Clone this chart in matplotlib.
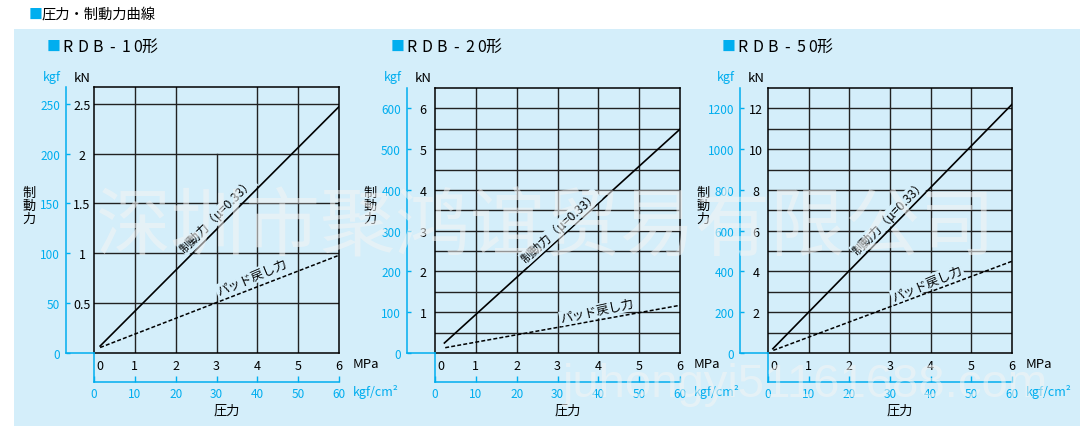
import numpy as np
import matplotlib
matplotlib.use('Agg')
import matplotlib.pyplot as plt
from matplotlib.patches import Rectangle
from matplotlib.transforms import ScaledTranslation

plt.rcParams['font.family'] = ['Noto Sans CJK JP', 'DejaVu Sans']

W, H = 1091, 435
CYAN = '#00aeef'
BG = '#d4eefa'
GRID = '#222222'

# --- data ---
titles = ['RDB-10形', 'RDB-20形', 'RDB-50形']
mpa_ticks = [0, 1, 2, 3, 4, 5, 6]
kgfcm2_labels = ['0', '10', '20', '30', '40', '50', '60']
kn_top = [2.667, 6.5, 13.0]
kn_grid = [[0.5, 1, 1.5, 2, 2.5],
           [0.5, 1, 1.5, 2, 2.5, 3, 3.5, 4, 4.5, 5, 5.5, 6],
           [1, 2, 3, 4, 5, 6, 7, 8, 9, 10, 11, 12]]
kn_ticks = [[0, 0.5, 1, 1.5, 2, 2.5],
            [0, 1, 2, 3, 4, 5, 6],
            [0, 2, 4, 6, 8, 10, 12]]
kn_labels = [['', '0.5', '1', '1.5', '2', '2.5'],
             ['', '1', '2', '3', '4', '5', '6'],
             ['', '2', '4', '6', '8', '10', '12']]
kgf_labels = [['0', '50', '100', '150', '200', '250'],
              ['0', '100', '200', '300', '400', '500', '600'],
              ['0', '200', '400', '600', '800', '1000', '1200']]

# braking force (mu=0.33) and pad return force, MPa -> kN
brake_p = [[0.15, 6], [0.23, 6], [0.12, 6]]
brake_f = [[0.07, 2.47], [0.245, 5.49], [0.21, 12.2]]
return_p = [[0.15, 6], [0.25, 6], [0.13, 6]]
return_f = [[0.055, 0.98], [0.13, 1.17], [0.13, 4.5]]

brake_lbl = [(3.02, 1.38), (3.06, 3.09), (2.98, 6.67)]
return_lbl = [(3.86, 0.76), (3.97, 1.03), (3.91, 3.43)]

# plot frames in pixels: left, top, right, bottom
frames = [(94, 88, 339, 354), (435, 89, 680, 354), (768, 89, 1012, 354)]
title_x = [47, 391, 722]
# spread-out lettering of the sub titles (px from the square)
letter_dx = [20, 36, 51, 65, 79, 91, 102]

fig = plt.figure(figsize=(W / 100, H / 100), dpi=100)
fig.add_artist(Rectangle((14 / W, 1 - 427 / H), (1080 - 14) / W, (427 - 30) / H,
                         transform=fig.transFigure, facecolor=BG,
                         edgecolor='none', zorder=-10))


def box(l, t, r, b):
    return [l / W, 1 - b / H, (r - l) / W, (b - t) / H]


def ftext(x, y, s, **kw):
    kw.setdefault('va', 'center')
    return fig.text(x / W, 1 - y / H, s, **kw)


def line_angle(ax, xs, ys):
    p = ax.transData.transform(np.column_stack([xs, ys]))
    return np.degrees(np.arctan2(p[1, 1] - p[0, 1], p[1, 0] - p[0, 0]))


ftext(29, 15, '■', color=CYAN, fontsize=10, ha='left')
ftext(42, 15, '圧力・制動力曲線', fontsize=10.3, ha='left')

for i in range(3):
    l, t, r, b = frames[i]
    ax = fig.add_axes(box(l, t, r, b))
    ax.set_facecolor('none')
    ax.set_xlim(0, 6)
    ax.set_ylim(0, kn_top[i])
    for v in kn_grid[i]:
        ax.axhline(v, color=GRID, lw=1.0, zorder=1)
    for v in mpa_ticks[1:-1]:
        top = 1.0
        if i == 0 and v == 3:
            top = 2.0 / kn_top[0]   # this line stops at 2 kN in the original
        ax.axvline(v, ymax=top, color=GRID, lw=1.0, zorder=1)
    for s in ax.spines.values():
        s.set_color('black')
        s.set_linewidth(1.1)
    ax.set_xticks(mpa_ticks)
    ax.set_yticks(kn_ticks[i], kn_labels[i])
    ax.tick_params(axis='x', length=0, labelsize=9, pad=4.5)
    ax.tick_params(axis='y', length=0, labelsize=9, pad=8.6)
    for lab in ax.get_yticklabels():
        lab.set_horizontalalignment('center')
    # the "0" under the corner sits a bit to the right
    lab0 = ax.get_xticklabels()[0]
    lab0.set_transform(lab0.get_transform() + ScaledTranslation(0.06, 0, fig.dpi_scale_trans))

    ax.plot(brake_p[i], brake_f[i], color='black', lw=1.2, zorder=3)
    ax.plot(return_p[i], return_f[i], color='black', lw=1.1,
            ls=(0, (2.6, 1.4)), zorder=3)

    a1 = line_angle(ax, brake_p[i], brake_f[i])
    ax.text(*brake_lbl[i], '制動力（μ=0.33）', rotation=a1, rotation_mode='anchor',
            ha='center', va='center', fontsize=8.8, zorder=4,
            bbox=dict(facecolor=BG, edgecolor='none', pad=0.6))
    a2 = line_angle(ax, return_p[i], return_f[i]) + 2
    ax.text(*return_lbl[i], 'パッド戻し力', rotation=a2, rotation_mode='anchor',
            ha='center', va='center', fontsize=9, zorder=4,
            bbox=dict(facecolor=BG, edgecolor='none', pad=0.6))

    # kgf scale on the left
    kx = fig.add_axes(box(l - 28, t, l, b))
    kx.set_facecolor('none')
    kx.set_xlim(0, 1)
    kx.set_ylim(0, kn_top[i])
    kx.spines[['top', 'right']].set_visible(False)
    kx.spines[['left', 'bottom']].set_color(CYAN)
    kx.spines[['left', 'bottom']].set_linewidth(1.1)
    kx.set_xticks([])
    kx.set_yticks(kn_ticks[i], kgf_labels[i])
    kx.tick_params(axis='y', direction='in', length=3, width=1, color=CYAN,
                   labelcolor=CYAN, labelsize=8.5, pad=4.3)

    # kgf/cm2 scale below
    bx = fig.add_axes(box(l, b, r, b + 29))
    bx.set_facecolor('none')
    bx.set_xlim(0, 6)
    bx.set_ylim(0, 1)
    bx.spines[['top', 'right']].set_visible(False)
    bx.spines[['left', 'bottom']].set_color(CYAN)
    bx.spines[['left', 'bottom']].set_linewidth(1.1)
    bx.set_yticks([])
    bx.set_xticks(mpa_ticks, kgfcm2_labels)
    bx.tick_params(axis='x', direction='in', length=4, width=1, color=CYAN,
                   labelcolor=CYAN, labelsize=8.5, pad=3.5)

    ftext(title_x[i], 47, '■', color=CYAN, fontsize=10, ha='left')
    for ch, dx in zip(titles[i], letter_dx):
        ftext(title_x[i] + dx, 47, ch, fontsize=11.5, ha='center')
    ftext(l - 42, 78, 'kgf', color=CYAN, fontsize=9, ha='center')
    ftext(l - 12, 78, 'kN', fontsize=9.5, ha='center')
    ftext(r + 14, 365, 'MPa', fontsize=9.5, ha='left')
    ftext(r + 14, 392, 'kgf/cm²', color=CYAN, fontsize=9, ha='left')
    ftext((l + r) / 2 + 10, 411, '圧力', fontsize=9.5, ha='center')
    ftext(l - 65, 206, '制\n動\n力', fontsize=9.5, ha='center', linespacing=1.0)

# watermark
ftext(545, 229, '深圳市聚鸿谊贸易有限公司', fontsize=54, ha='center',
      color='#f4f4f4', alpha=0.55, family=['Noto Sans CJK SC', 'DejaVu Sans'], zorder=10)
ftext(805, 397, 'juhongyi51161688.com', fontsize=34, ha='center', va='baseline',
      color='#f4f4f4', alpha=0.55, family=['Liberation Sans', 'DejaVu Sans'], zorder=10)

fig.savefig('out.png', dpi=100)
